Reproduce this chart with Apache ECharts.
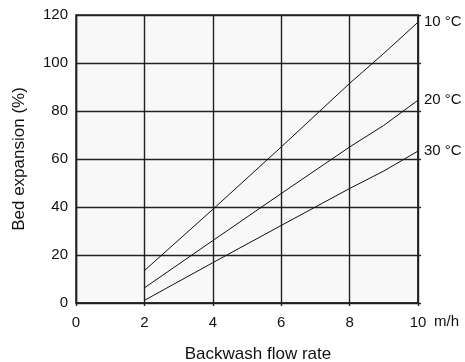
<!DOCTYPE html>
<html><head><meta charset="utf-8">
<script src="https://cdn.jsdelivr.net/npm/echarts@6/dist/echarts.min.js"></script>
<style>html,body{margin:0;padding:0;background:#fff}#c{width:465px;height:362px}</style>
</head><body><div id="c"></div>
<script>
var flowRates = [2, 4, 6, 8, 9, 10];
var exp10C = [13.5, 39, 65, 91.5, 104, 117];
var exp20C = [6.3, 26, 45.6, 65, 74, 84.5];
var exp30C = [1.1, 16.8, 32.3, 47.7, 55, 63.3];
var seriesNames = ['10 °C', '20 °C', '30 °C'];
var xTicks = [0, 2, 4, 6, 8, 10];
var yTicks = [0, 20, 40, 60, 80, 100, 120];

function pairs(vals){ return flowRates.map(function(x,i){ return [x, vals[i]]; }); }
var font = 'Liberation Sans, Arial, sans-serif';
var chart = echarts.init(document.getElementById('c'));
function mk(name, vals){
  return {
    name: name, type: 'line', data: pairs(vals), symbol: 'none', smooth: false,
    lineStyle: {color: '#111', width: 1}, itemStyle: {color: '#111'},
    endLabel: {show: true, formatter: name, color: '#111', fontFamily: font, fontSize: 15, distance: 6},
    z: 3, animation: false
  };
}
chart.setOption({
  animation: false,
  grid: {left: 76, right: 47, top: 15, bottom: 59, show: true, backgroundColor: '#f8f8f8', borderColor: '#222', borderWidth: 1.4, containLabel: false, outerBoundsMode: 'none'},
  xAxis: {
    type: 'value', min: 0, max: 10, interval: 2,
    axisLine: {show: true, lineStyle: {color: '#222', width: 1.5}},
    axisTick: {show: true, length: 3, lineStyle: {color: '#222', width: 1.4}},
    axisLabel: {fontFamily: font, fontSize: 15, color: '#111', margin: 12},
    splitLine: {show: true, lineStyle: {color: '#222', width: 1.4}}
  },
  yAxis: [{
    type: 'value', min: 0, max: 120, interval: 20,
    name: 'Bed expansion (%)', nameLocation: 'middle', nameGap: 48, nameRotate: 90,
    nameTextStyle: {fontFamily: font, fontSize: 17, color: '#111'},
    axisLine: {show: true, lineStyle: {color: '#222', width: 1.4}},
    axisTick: {show: false},
    axisLabel: {fontFamily: font, fontSize: 15, color: '#111', margin: 8},
    splitLine: {show: true, lineStyle: {color: '#222', width: 1.4}}
  }, {
    type: 'value', min: 0, max: 120, interval: 20, position: 'right',
    axisLine: {show: true, lineStyle: {color: '#222', width: 1.5}},
    axisTick: {show: true, length: 3, lineStyle: {color: '#222', width: 1.4}},
    axisLabel: {show: false}, splitLine: {show: false}
  }],
  graphic: [
    {type: 'text', left: 434, top: 314, style: {text: 'm/h', fontFamily: font, fontSize: 15, fill: '#111'}},
    {type: 'text', x: 258, y: 354, style: {text: 'Backwash flow rate', fontFamily: font, fontSize: 17, fill: '#111', align: 'center', verticalAlign: 'middle'}}
  ],
  series: [mk(seriesNames[0], exp10C), mk(seriesNames[1], exp20C), mk(seriesNames[2], exp30C)]
});
</script></body></html>
